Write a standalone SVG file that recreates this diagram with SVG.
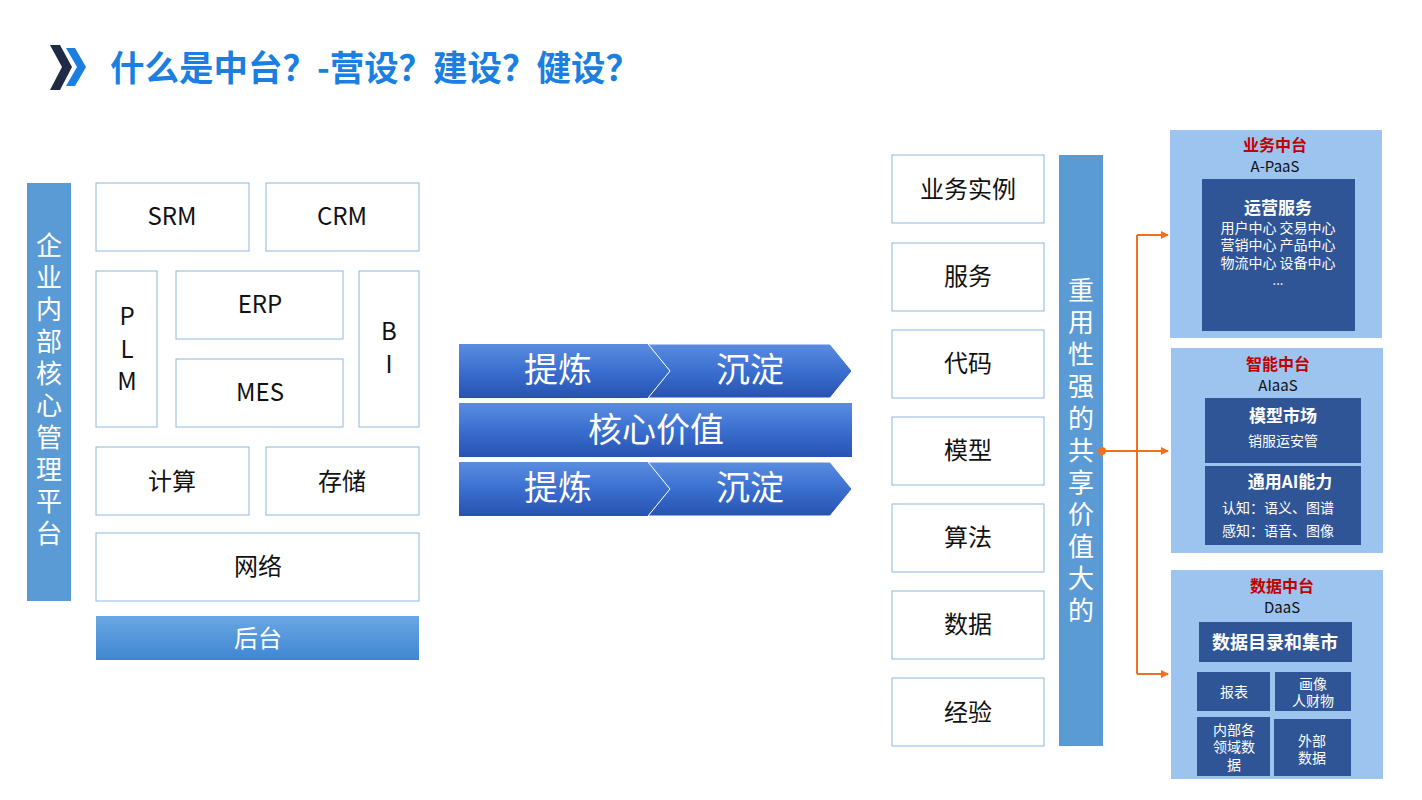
<svg xmlns="http://www.w3.org/2000/svg" width="1422" height="800" viewBox="0 0 1422 800">
<style>
text{font-family:"Noto Sans CJK SC","Liberation Sans",sans-serif;text-anchor:middle}
.b{fill:#fff;stroke:#8fb8e0;stroke-width:1}
.t{font-size:24px;fill:#111}
.w{fill:#fff}
.p{fill:#9dc3ef}
.d{fill:#2f5597}
.r{fill:#c00000;font-weight:bold;font-size:16px}
.k{fill:#111;font-size:15px}
</style>
<defs>
<linearGradient id="g" x1="0" y1="0" x2="0" y2="1"><stop offset="0" stop-color="#5a8de0"/><stop offset="0.5" stop-color="#3a6fd0"/><stop offset="1" stop-color="#2752b0"/></linearGradient>
<linearGradient id="h" x1="0" y1="0" x2="0" y2="1"><stop offset="0" stop-color="#6aa7e4"/><stop offset="1" stop-color="#3f86d2"/></linearGradient>
<marker id="a" markerWidth="8" markerHeight="8" refX="7" refY="4" orient="auto" markerUnits="userSpaceOnUse"><path d="M0,0L8,4L0,8z" fill="#f07020"/></marker>
</defs>
<rect width="1422" height="800" fill="#fff"/>
<g id="title">
<path d="M50,45L60,45L72,67L60,90L50,90L62,67z" fill="#1f2a44"/>
<path d="M66,48L75,48L86,67L75,86L66,86L77,67z" fill="#1a7fe0"/>
<text x="110" y="81" style="text-anchor:start;font-size:35px;font-weight:bold;fill:#1a7fe0" textLength="530" lengthAdjust="spacingAndGlyphs">什么是中台？-营设？建设？健设？</text>
</g>
<g id="left">
<rect x="27" y="183" width="44" height="418" fill="#5b9bd5"/>
<text x="49" y="255" class="w" style="font-size:26px"><tspan x="49">企</tspan><tspan x="49" dy="32">业</tspan><tspan x="49" dy="32">内</tspan><tspan x="49" dy="32">部</tspan><tspan x="49" dy="32">核</tspan><tspan x="49" dy="32">心</tspan><tspan x="49" dy="32">管</tspan><tspan x="49" dy="32">理</tspan><tspan x="49" dy="32">平</tspan><tspan x="49" dy="32">台</tspan></text>
<g id="srm"><rect class="b" x="96" y="183" width="153" height="68"/><text class="t" x="172" y="225">SRM</text></g>
<g id="crm"><rect class="b" x="266" y="183" width="153" height="68"/><text class="t" x="342" y="225">CRM</text></g>
<g id="plm"><rect class="b" x="96" y="271" width="61" height="156"/><text class="t" x="127" y="325">P</text><text class="t" x="127" y="358">L</text><text class="t" x="127" y="390">M</text></g>
<g id="erp"><rect class="b" x="176" y="271" width="167" height="68"/><text class="t" x="260" y="313">ERP</text></g>
<g id="mes"><rect class="b" x="176" y="359" width="167" height="68"/><text class="t" x="260" y="401">MES</text></g>
<g id="bi"><rect class="b" x="359" y="271" width="60" height="156"/><text class="t" x="389" y="340">B</text><text class="t" x="389" y="373">I</text></g>
<g id="calc"><rect class="b" x="96" y="447" width="153" height="68"/><text class="t" x="172" y="490">计算</text></g>
<g id="store"><rect class="b" x="266" y="447" width="153" height="68"/><text class="t" x="342" y="490">存储</text></g>
<g id="net"><rect class="b" x="96" y="533" width="323" height="68"/><text class="t" x="258" y="575">网络</text></g>
<g id="back"><rect x="96" y="616" width="323" height="44" fill="url(#h)"/><text x="258" y="647" class="w" style="font-size:24px">后台</text></g>
</g>
<g id="mid">
<path d="M459,344H648L670,371L648,398H459z" fill="url(#g)"/>
<path d="M648,344H830L852,371L830,398H648L670,371z" fill="url(#g)" stroke="#fff" stroke-width="1"/>
<text x="558" y="382" class="w" style="font-size:34px">提炼</text>
<text x="750" y="382" class="w" style="font-size:34px">沉淀</text>
<rect x="459" y="403" width="393" height="54" fill="url(#g)"/>
<text x="656" y="442" class="w" style="font-size:34px">核心价值</text>
<path d="M459,462H648L670,489L648,516H459z" fill="url(#g)"/>
<path d="M648,462H830L852,489L830,516H648L670,489z" fill="url(#g)" stroke="#fff" stroke-width="1"/>
<text x="558" y="500" class="w" style="font-size:34px">提炼</text>
<text x="750" y="500" class="w" style="font-size:34px">沉淀</text>
</g>
<g id="list">
<g><rect class="b" x="892" y="155" width="152" height="68"/><text class="t" x="968" y="198">业务实例</text></g>
<g><rect class="b" x="892" y="243" width="152" height="68"/><text class="t" x="968" y="285">服务</text></g>
<g><rect class="b" x="892" y="330" width="152" height="68"/><text class="t" x="968" y="372">代码</text></g>
<g><rect class="b" x="892" y="417" width="152" height="68"/><text class="t" x="968" y="459">模型</text></g>
<g><rect class="b" x="892" y="504" width="152" height="68"/><text class="t" x="968" y="546">算法</text></g>
<g><rect class="b" x="892" y="591" width="152" height="68"/><text class="t" x="968" y="633">数据</text></g>
<g><rect class="b" x="892" y="678" width="152" height="68"/><text class="t" x="968" y="721">经验</text></g>
</g>
<g id="reuse"><rect x="1059" y="155" width="44" height="591" fill="#5b9bd5"/>
<text x="1081" y="300" class="w" style="font-size:26px"><tspan x="1081">重</tspan><tspan x="1081" dy="32">用</tspan><tspan x="1081" dy="32">性</tspan><tspan x="1081" dy="32">强</tspan><tspan x="1081" dy="32">的</tspan><tspan x="1081" dy="32">共</tspan><tspan x="1081" dy="32">享</tspan><tspan x="1081" dy="32">价</tspan><tspan x="1081" dy="32">值</tspan><tspan x="1081" dy="32">大</tspan><tspan x="1081" dy="32">的</tspan></text></g>
<g id="connectors" stroke="#f07020" stroke-width="2" fill="none">
<circle cx="1102" cy="451" r="4" fill="#f07020" stroke="none"/>
<path d="M1102,451H1137"/>
<path d="M1137,235V674"/>
<path d="M1137,235H1168" marker-end="url(#a)"/>
<path d="M1137,451H1168" marker-end="url(#a)"/>
<path d="M1137,674H1168" marker-end="url(#a)"/>
</g>
<g id="biz">
<rect class="p" x="1170" y="130" width="212" height="208"/>
<text class="r" x="1275" y="151">业务中台</text><text class="k" x="1275" y="172">A-PaaS</text>
<rect class="d" x="1202" y="179" width="153" height="152"/>
<text class="w" x="1278" y="214" style="font-size:17px;font-weight:bold">运营服务</text>
<text class="w" x="1278" y="233" style="font-size:14px">用户中心 交易中心</text>
<text class="w" x="1278" y="250" style="font-size:14px">营销中心 产品中心</text>
<text class="w" x="1278" y="268" style="font-size:14px">物流中心 设备中心</text>
<text class="w" x="1278" y="285" style="font-size:13px">...</text>
</g>
<g id="ai">
<rect class="p" x="1171" y="348" width="212" height="205"/>
<text class="r" x="1278" y="370">智能中台</text><text class="k" x="1278" y="391">AIaaS</text>
<rect class="d" x="1205" y="398" width="156" height="65"/>
<text class="w" x="1283" y="422" style="font-size:17px;font-weight:bold">模型市场</text>
<text class="w" x="1283" y="446" style="font-size:14px">销服运安管</text>
<rect class="d" x="1205" y="466" width="156" height="79"/>
<text class="w" x="1290" y="488" style="font-size:17px;font-weight:bold">通用AI能力</text>
<text class="w" x="1278" y="513" style="font-size:14px">认知：语义、图谱</text>
<text class="w" x="1278" y="536" style="font-size:14px">感知：语音、图像</text>
</g>
<g id="data">
<rect class="p" x="1171" y="570" width="212" height="209"/>
<text class="r" x="1282" y="592">数据中台</text><text class="k" x="1282" y="613">DaaS</text>
<rect class="d" x="1199" y="622" width="153" height="40"/>
<text class="w" x="1275" y="649" style="font-size:18px;font-weight:bold">数据目录和集市</text>
<rect class="d" x="1197" y="672" width="73" height="39"/><text class="w" x="1234" y="697" style="font-size:14px">报表</text>
<rect class="d" x="1275" y="672" width="76" height="39"/><text class="w" x="1313" y="689" style="font-size:14px">画像</text><text class="w" x="1313" y="706" style="font-size:14px">人财物</text>
<rect class="d" x="1197" y="717" width="73" height="59"/><text class="w" x="1234" y="735" style="font-size:14px">内部各</text><text class="w" x="1234" y="752" style="font-size:14px">领域数</text><text class="w" x="1234" y="770" style="font-size:14px">据</text>
<rect class="d" x="1274" y="719" width="77" height="57"/><text class="w" x="1312" y="746" style="font-size:14px">外部</text><text class="w" x="1312" y="763" style="font-size:14px">数据</text>
</g>
</svg>
